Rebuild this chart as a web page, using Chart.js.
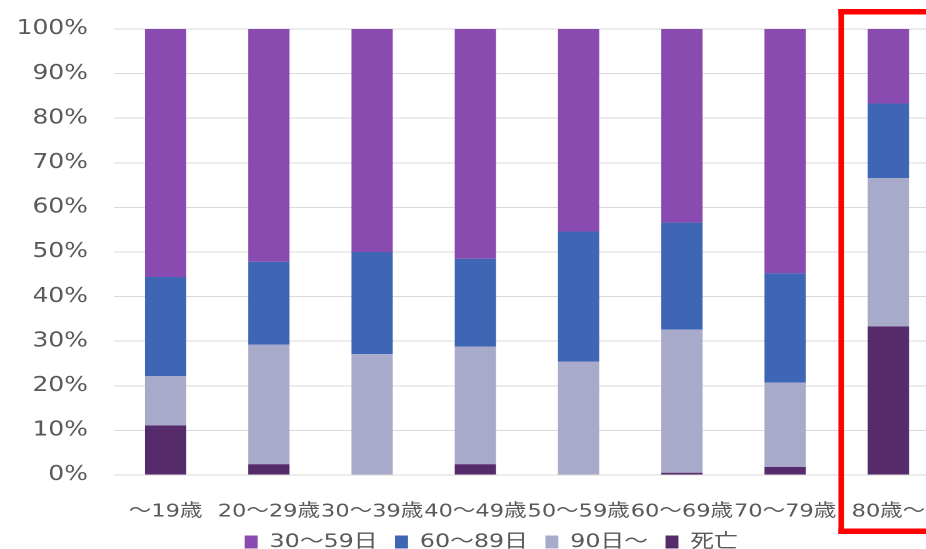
<!DOCTYPE html>
<html lang="ja">
<head>
<meta charset="utf-8">
<title>年代別 療養期間の割合</title>
<script src="https://cdn.jsdelivr.net/npm/chart.js@4/dist/chart.umd.min.js"></script>
<style>
    html, body { margin: 0; padding: 0; overflow: hidden; background: #fff; }
    /* the source image is stretched sideways, so the whole chart is drawn narrow and widened */
    #wrap {
        width: 786px;
        height: 549px;
        transform: scaleX(1.25);
        transform-origin: 0 0;
    }
</style>
</head>
<body>
<div id="wrap"><canvas id="chart"></canvas></div>
<script>
// ─── Data ─────────────────────────────────────────────

const ageGroups = ['～19歳', '20～29歳', '30～39歳', '40～49歳', '50～59歳', '60～69歳', '70～79歳', '80歳～'];

// percent of each age group, bottom of the stack first
const deaths   = [11.1,  2.4,  0.0,  2.4,  0.0,  0.5,  1.8, 33.3];
const days90   = [11.1, 26.8, 27.1, 26.4, 25.4, 32.1, 18.9, 33.3];
const days6089 = [22.2, 18.6, 22.9, 19.7, 29.2, 24.0, 24.5, 16.7];
const days3059 = [55.6, 52.2, 50.0, 51.5, 45.4, 43.4, 54.8, 16.7];

const yTicks = [0, 10, 20, 30, 40, 50, 60, 70, 80, 90, 100];

// ─── Helpers ──────────────────────────────────────────

const FONT = "'DejaVu Sans', 'Noto Sans CJK JP', sans-serif";
const TEXT = '#595959';

function _series(label, data, color) {
    return { label, data, backgroundColor: color, borderWidth: 0 };
}

// red frame round the last age group
const highlightLast = {
    id: 'highlightLast',
    afterDraw(chart) {
        const { ctx, chartArea, scales: { x, y } } = chart;
        const step   = x.getPixelForValue(1) - x.getPixelForValue(0);
        const center = x.getPixelForValue(ageGroups.length - 1);
        const left   = center - step * 0.484;
        const right  = center + step * 0.6;
        const top    = y.getPixelForValue(100) - 20;
        const bottom = chartArea.bottom + 59;
        const lw = 4.4, lh = 5.5;
        ctx.save();
        ctx.fillStyle = '#FF0000';
        ctx.fillRect(left, top, right - left, lh);
        ctx.fillRect(left, bottom - lh, right - left, lh);
        ctx.fillRect(left, top, lw, bottom - top);
        ctx.fillRect(right - lw, top, lw, bottom - top);
        ctx.restore();
    },
};

// ─── Chart ────────────────────────────────────────────

new Chart(document.getElementById('chart'), {
    type: 'bar',
    data: {
        labels: ageGroups,
        datasets: [
            _series('死亡', deaths, '#562B6B'),
            _series('90日～', days90, '#A8AACA'),
            _series('60～89日', days6089, '#3F66B4'),
            _series('30～59日', days3059, '#8A4BB0'),
        ],
    },
    options: {
        responsive: true,
        maintainAspectRatio: false,
        devicePixelRatio: 2,
        animation: false,
        categoryPercentage: 0.8,
        barPercentage: 0.5,
        layout: { padding: { top: 29, bottom: -12.5, left: 0, right: 0 } },
        scales: {
            x: {
                stacked: true,
                grid: { display: false },
                border: { display: false },
                ticks: {
                    color: TEXT,
                    padding: 18,
                    maxRotation: 0,
                    autoSkip: false,
                    font: { family: FONT, size: 18 },
                },
                afterFit(scale) { scale.height = 43.5; },
            },
            y: {
                stacked: true,
                min: 0,
                max: 100,
                afterBuildTicks(scale) { scale.ticks = yTicks.map(value => ({ value })); },
                grid: { color: '#D9D9D9', lineWidth: 1, drawTicks: false },
                border: { display: false },
                ticks: {
                    color: TEXT,
                    padding: 20.8,
                    font: { family: FONT, size: 20 },
                    callback: v => v + '%',
                },
                afterFit(scale) {
                    scale.width = 91.2;
                    // the label gap is sideways only; keep it off the top and bottom
                    scale.paddingTop = 0;
                    scale.paddingBottom = 0;
                },
            },
            // empty axis that only keeps the right-hand gap
            yr: {
                position: 'right',
                display: true,
                grid: { display: false },
                border: { display: false },
                ticks: { display: false },
                afterFit(scale) { scale.width = 34; },
            },
        },
        plugins: {
            tooltip: { enabled: false },
            legend: {
                position: 'bottom',
                reverse: true,
                labels: {
                    color: TEXT,
                    boxWidth: 10.4,
                    boxHeight: 13,
                    padding: 14,
                    font: { family: FONT, size: 19 },
                },
            },
        },
    },
    plugins: [highlightLast],
});
</script>
</body>
</html>
